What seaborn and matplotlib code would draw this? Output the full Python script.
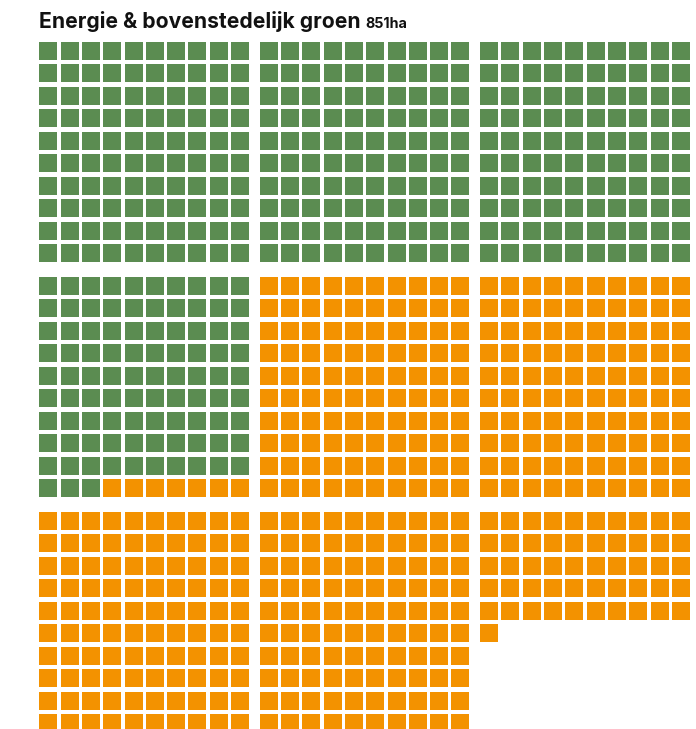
import numpy as np
import pandas as pd
import matplotlib
matplotlib.use("Agg")
import matplotlib.pyplot as plt
import seaborn as sns

# ---- data ----
title_main = "Energie & bovenstedelijk groen"
title_total = "851ha"
categories = ["Bovenstedelijk groen", "Energie"]
counts = [393, 458]
colors = ["#5B8C51", "#F39200"]

# ---- build waffle cells (block-wise fill, 3x3 blocks of 10x10) ----
cats = np.repeat(categories, counts)
idx = np.arange(len(cats))
block = idx // 100
within = idx % 100
df = pd.DataFrame({
    "cat": cats,
    "brow": block // 3,
    "bcol": block % 3,
    "row": within // 10,
    "col": within % 10,
})
sq = 18.0
x0, y0 = 39.3, 41.7
df["x"] = x0 + df["bcol"] * 220.4 + df["col"] * 21.3 + sq / 2
df["y"] = y0 + df["brow"] * 235.0 + df["row"] * 22.5 + sq / 2

sns.set_theme(style="white")
plt.rcParams["font.family"] = ["Inter", "DejaVu Sans"]

W, H, DPI = 696, 729, 100
fig = plt.figure(figsize=(W / DPI, H / DPI), dpi=DPI)
ax = fig.add_axes([0, 0, 1, 1])
side_pt = sq * 72 / DPI
sns.scatterplot(data=df, x="x", y="y", hue="cat", hue_order=categories,
                palette=colors, marker="s", s=side_pt ** 2, linewidth=0,
                legend=False, ax=ax)
ax.set_xlim(0, W)
ax.set_ylim(H, 0)
ax.axis("off")

t1 = fig.text(39 / W, 1 - 28 / H, title_main, fontsize=15.2, fontweight="bold",
              color="#111111", ha="left", va="baseline")
fig.canvas.draw()
bb = t1.get_window_extent(renderer=fig.canvas.get_renderer())
fig.text((bb.x1 + 5) / W, 1 - 28 / H, title_total, fontsize=10.3,
         fontweight="bold", color="#111111", ha="left", va="baseline")

fig.savefig("out.png", dpi=DPI, facecolor="white")
